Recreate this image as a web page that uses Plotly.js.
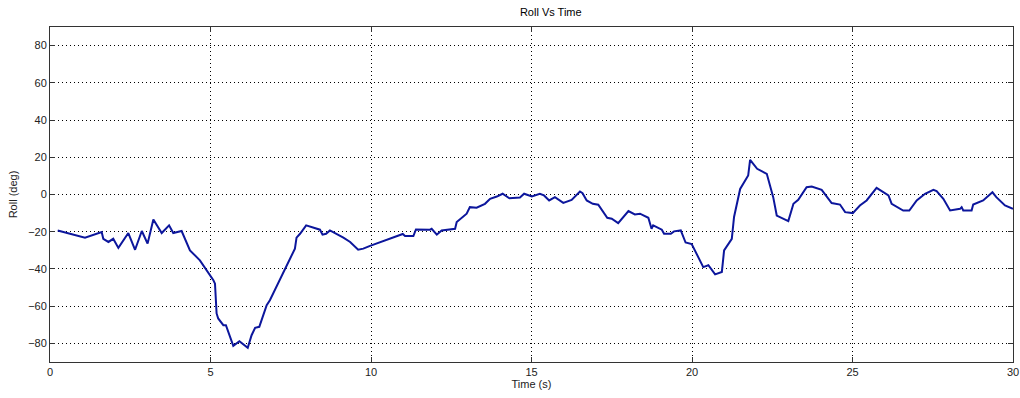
<!DOCTYPE html>
<html>
<head>
<meta charset="utf-8">
<script src="https://cdn.plot.ly/plotly-3.0.1.min.js"></script>
<style>html,body{margin:0;padding:0;background:#fff;}#chart{width:1020px;height:398px;}</style>
</head>
<body>
<div id="chart"></div>
<script>
const timeS = [0.24,1.09,1.61,1.66,1.82,1.97,2.13,2.44,2.65,2.86,3.04,3.22,3.48,3.71,3.84,4.10,4.36,4.52,4.67,5.09,5.14,5.19,5.24,5.40,5.48,5.71,5.90,6.16,6.28,6.39,6.52,6.75,6.85,7.63,7.68,7.79,7.98,8.41,8.49,8.60,8.72,9.14,9.35,9.60,9.76,9.97,10.90,10.99,11.06,11.32,11.40,11.84,11.89,12.05,12.20,12.38,12.62,12.67,12.98,13.08,13.29,13.55,13.71,13.92,14.10,14.31,14.64,14.77,15.01,15.26,15.39,15.55,15.73,15.99,16.25,16.51,16.59,16.72,16.91,17.08,17.36,17.50,17.70,18.02,18.22,18.38,18.64,18.74,18.79,19.06,19.13,19.34,19.44,19.65,19.80,19.99,20.35,20.51,20.72,20.93,21.00,21.24,21.31,21.50,21.75,21.81,22.03,22.33,22.53,22.64,23.00,23.16,23.31,23.57,23.73,24.04,24.35,24.61,24.77,25.01,25.23,25.44,25.75,26.12,26.22,26.58,26.77,27.00,27.26,27.52,27.62,27.83,28.04,28.35,28.40,28.45,28.71,28.76,29.07,29.36,29.48,29.75,30.0];
const rollDeg = [-19.3,-23.2,-20.2,-23.8,-25.5,-23.8,-28.7,-20.7,-29.7,-19.6,-26.4,-13.4,-20.7,-16.6,-20.7,-19.6,-30.0,-32.7,-35.4,-46.1,-47.9,-63.9,-66.6,-70.2,-70.2,-81.3,-78.8,-82.4,-75.6,-71.6,-71.1,-59.5,-56.8,-29.1,-23.2,-21.1,-16.6,-18.9,-21.6,-21.1,-19.3,-23.2,-25.5,-29.7,-29.1,-27.6,-22.0,-21.2,-22.3,-22.3,-18.8,-18.9,-18.4,-21.6,-19.3,-18.9,-18.4,-14.8,-10.3,-6.8,-7.1,-5.0,-2.3,-1.1,0.4,-2.0,-1.6,0.4,-1.1,0.4,-0.5,-3.2,-1.4,-4.5,-2.9,1.6,0.7,-3.2,-5.0,-5.5,-12.5,-13.0,-15.4,-8.9,-10.7,-10.3,-12.5,-18.4,-16.6,-18.9,-21.1,-21.1,-19.8,-19.3,-25.8,-26.6,-39.0,-38.0,-42.9,-41.6,-30.0,-23.8,-12.1,3.0,10.2,18.6,13.8,11.1,-1.4,-11.3,-14.3,-5.0,-2.9,3.9,4.3,2.5,-4.6,-5.4,-9.5,-10.0,-5.9,-3.2,3.6,-0.5,-5.0,-8.6,-8.6,-3.2,0.4,2.5,1.8,-2.3,-8.6,-7.7,-6.8,-8.6,-8.6,-5.4,-3.2,1.2,-1.4,-5.9,-7.7];
const xTicks = [0,5,10,15,20,25,30];
const yTicks = [-80,-60,-40,-20,0,20,40,60,80];

const font = {family: 'Liberation Sans, Arial, sans-serif', size: 11, color: '#222'};
const axisCommon = {
  showline: true, linecolor: '#333', linewidth: 1, mirror: 'ticks',
  ticks: 'inside', ticklen: 5, tickcolor: '#333',
  showgrid: true, gridcolor: '#000', gridwidth: 1, griddash: '1px,3px',
  zeroline: false, tickfont: font
};
Plotly.newPlot('chart', [{
  x: timeS, y: rollDeg, type: 'scatter', mode: 'lines',
  line: {color: '#0c169c', width: 2}
}], {
  width: 1020, height: 398,
  margin: {l: 50, r: 7, t: 27, b: 36},
  paper_bgcolor: '#fff', plot_bgcolor: '#fff',
  showlegend: false,
  font: font,
  title: {text: 'Roll Vs Time', font: {family: font.family, size: 11, color: '#000'}, x: 0.52, xref: 'paper', y: 0.97, yref: 'container', yanchor: 'middle'},
  xaxis: Object.assign({}, axisCommon, {range: [0, 30], tickvals: xTicks, title: {text: 'Time (s)', font: font, standoff: 2}}),
  yaxis: Object.assign({}, axisCommon, {range: [-90, 90], tickvals: yTicks, title: {text: 'Roll (deg)', font: font, standoff: 8}})
}, {displayModeBar: false, staticPlot: true});
</script>
</body>
</html>
